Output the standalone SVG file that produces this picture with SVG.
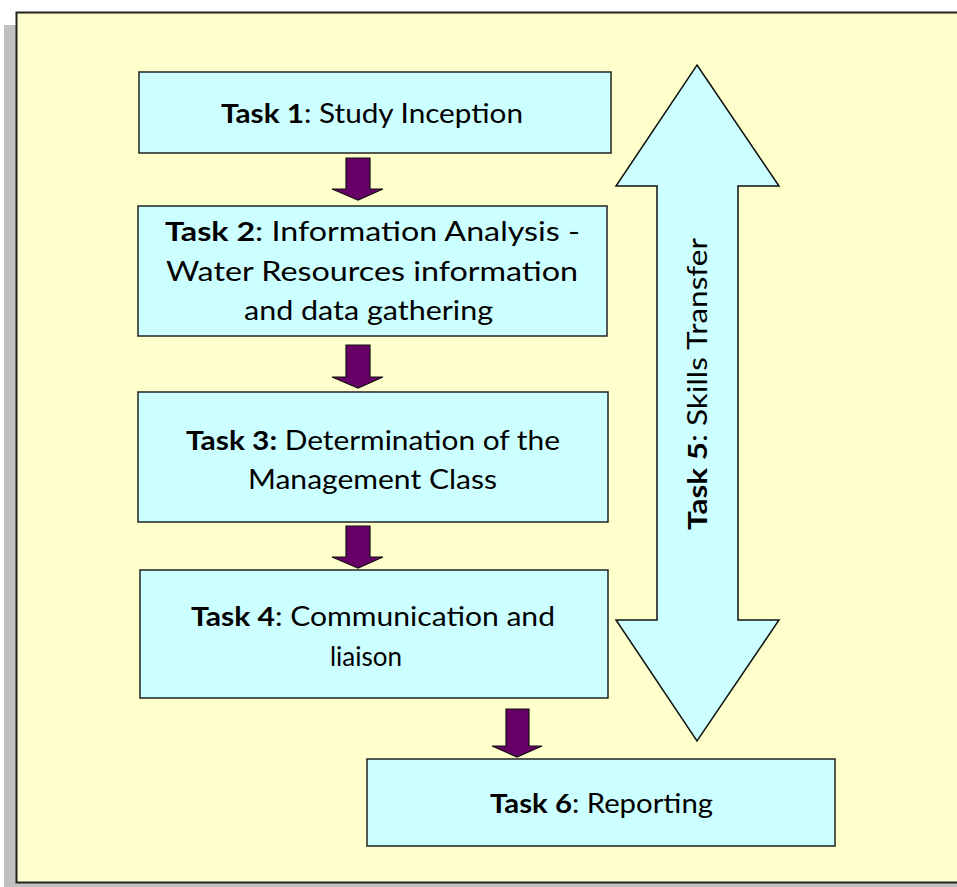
<svg xmlns="http://www.w3.org/2000/svg" width="957" height="887" viewBox="0 0 957 887">
<style>
.box{fill:#ccffff;stroke:#222;stroke-width:1.5}
.big{fill:#ccffff;stroke:#111;stroke-width:1.5}
.arr{fill:#660066;stroke:#111;stroke-width:1.2}
text{font-family:Lato,"Open Sans","Liberation Sans",sans-serif;font-size:26px;fill:#000}
.b{font-weight:bold}
</style>
<rect x="4" y="25" width="960" height="870" fill="#c0c0c0"/>
<rect x="16.5" y="12.5" width="950" height="870" fill="#ffffcc" stroke="#222" stroke-width="2"/>
<g id="connectors">
<polygon class="arr" points="346,158 370,158 370,189 383,189 358,200 332,189 346,189"/>
<polygon class="arr" points="346,345 370,345 370,377 383,377 358,388 332,377 346,377"/>
<polygon class="arr" points="346,526 370,526 370,557 383,557 358,568 332,557 346,557"/>
<polygon class="arr" points="506,709 529,709 529,746 542,746 517,757 492,746 506,746"/>
</g>
<g id="task5">
<polygon class="big" points="697,65 779,186 738,186 738,620 779,620 697,741 616,620 657,620 657,186 616,186"/>
<text transform="translate(707,530) rotate(-90)" textLength="292" lengthAdjust="spacingAndGlyphs"><tspan class="b">Task 5</tspan>:  Skills Transfer</text>
</g>
<g id="task1">
<rect class="box" x="139" y="72" width="472" height="81"/>
<text x="221" y="123" textLength="302" lengthAdjust="spacingAndGlyphs"><tspan class="b">Task 1</tspan>: Study Inception</text>
</g>
<g id="task2">
<rect class="box" x="138" y="206" width="469" height="130"/>
<text x="165" y="241" textLength="415" lengthAdjust="spacingAndGlyphs"><tspan class="b">Task 2</tspan>: Information  Analysis -</text>
<text x="166" y="281" textLength="412" lengthAdjust="spacingAndGlyphs">Water Resources  information</text>
<text x="244" y="320" textLength="249" lengthAdjust="spacingAndGlyphs">and data gathering</text>
</g>
<g id="task3">
<rect class="box" x="138" y="392" width="470" height="130"/>
<text x="186" y="450" textLength="374" lengthAdjust="spacingAndGlyphs"><tspan class="b">Task 3:</tspan> Determination  of the</text>
<text x="248" y="489" textLength="249" lengthAdjust="spacingAndGlyphs">Management Class</text>
</g>
<g id="task4">
<rect class="box" x="140" y="570" width="468" height="128"/>
<text x="191" y="626" textLength="364" lengthAdjust="spacingAndGlyphs"><tspan class="b">Task 4</tspan>: Communication and</text>
<text x="366" y="666" text-anchor="middle">liaison</text>
</g>
<g id="task6">
<rect class="box" x="367" y="759" width="468" height="87"/>
<text x="490" y="813" textLength="223" lengthAdjust="spacingAndGlyphs"><tspan class="b">Task 6</tspan>: Reporting</text>
</g>
</svg>
